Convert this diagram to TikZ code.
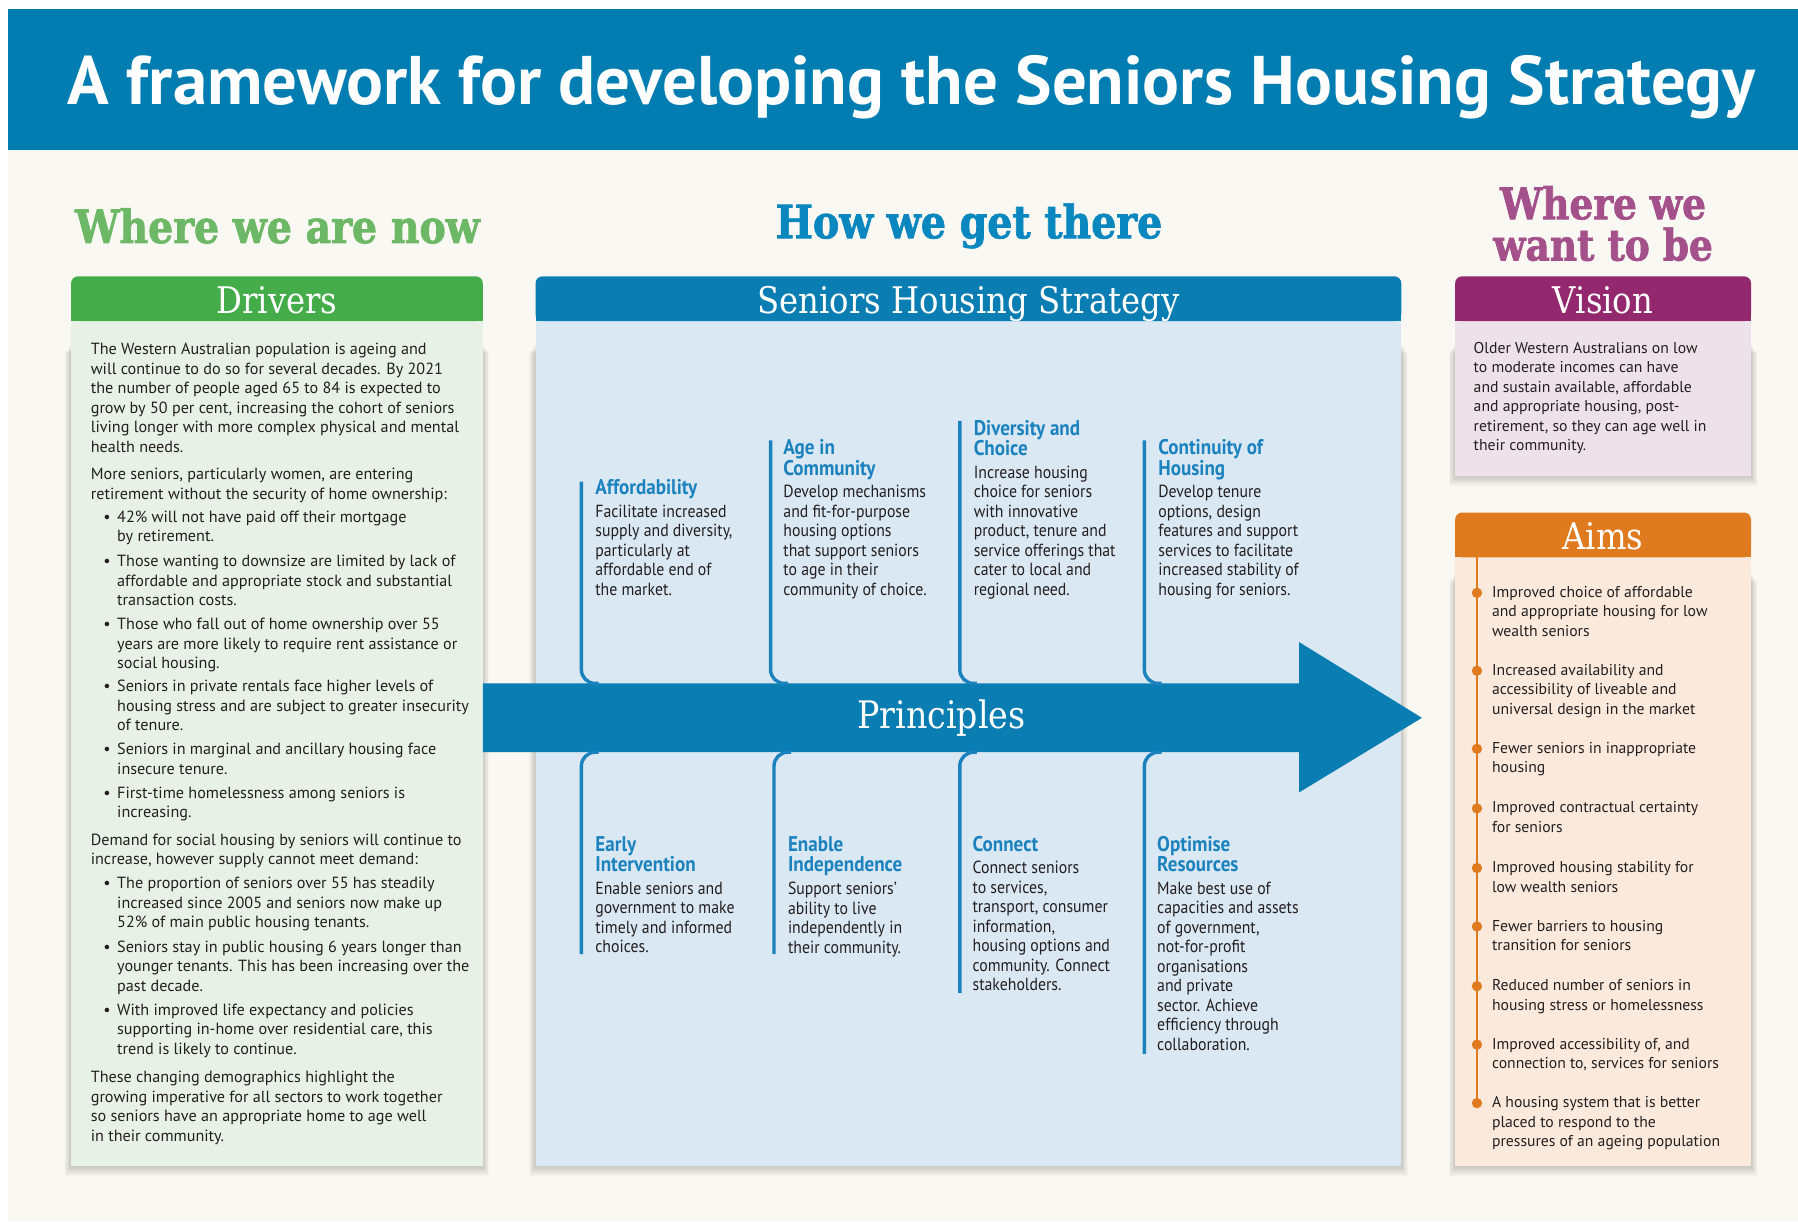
\documentclass[tikz,border=0pt]{standalone}
\usepackage{fontspec}
\setmainfont{PT Sans}
\newfontfamily\narrowfont[FakeStretch=0.9]{PT Sans}
\newfontfamily\slabfont[FakeStretch=0.88]{DejaVu Serif}
\newfontfamily\slabheavy[FakeStretch=0.86, FakeBold=1.6]{DejaVu Serif Bold}
\usetikzlibrary{shadows}
\definecolor{cream}{HTML}{FAF8F2}
\definecolor{titleblue}{HTML}{027DB1}
\definecolor{textdark}{HTML}{231F20}
\definecolor{drvgreen}{HTML}{44AD4A}
\definecolor{drvbody}{HTML}{E8F1E6}
\definecolor{nowgreen}{HTML}{6DB866}
\definecolor{strblue}{HTML}{0A7DB3}
\definecolor{strbody}{HTML}{DAE8F3}
\definecolor{howblue}{HTML}{0A87BF}
\definecolor{princblue}{HTML}{1B82BE}
\definecolor{vispurple}{HTML}{93286F}
\definecolor{visbody}{HTML}{EDE2E9}
\definecolor{wantpurple}{HTML}{A4508B}
\definecolor{aimorange}{HTML}{E07A1F}
\definecolor{aimbody}{HTML}{FBEADB}
\tikzstyle{panel}=[rectangle, anchor=north west, inner sep=0pt, outer sep=0pt]
\tikzstyle{header}=[rectangle, anchor=north west, inner sep=0pt, outer sep=0pt, rounded corners=6pt, minimum height=39, text=white, text height=26pt, text depth=1pt, font=\slabfont\fontsize{32}{32}\selectfont]
\tikzstyle{section}=[align=center, inner sep=0pt, font=\slabheavy\fontsize{40}{36}\selectfont]
\tikzstyle{bodytext}=[anchor=north west, inner sep=0pt, align=left, text=textdark, font=\fontsize{13.7}{17}\selectfont]
\tikzstyle{phead}=[anchor=north west, inner sep=0pt, align=left, text=princblue, font=\narrowfont\bfseries\fontsize{18.5}{18}\selectfont]
\tikzstyle{pbody}=[anchor=north west, inner sep=0pt, align=left, text=textdark, font=\narrowfont\fontsize{15.3}{17}\selectfont]
\tikzstyle{pline}=[draw=princblue, line width=3pt, rounded corners=12pt]
\tikzstyle{aimdot}=[circle, fill=aimorange, inner sep=0pt, minimum size=9pt]
\newcommand{\drvbul}{\hspace*{11pt}\makebox[12pt][l]{\textbullet}}
\newcommand{\drvind}{\hspace*{23pt}}
% soft shadow under a panel: left, top, right, bottom
\newcommand{\softshadow}[4]{%
  \foreach \d in {1,...,8}{\fill[black, opacity=0.022] ({#1-0.7*\d},{#2+\d}) rectangle ({#3+0.7*\d},{#4+1.1*\d});}}

\begin{document}
\begin{tikzpicture}[x=1pt, y=-1pt]
  \useasboundingbox (0,0) rectangle (1568,1065);
  \fill[cream] (7,8) rectangle (1568,1065);
  % title band
  \node (titlebar) [rectangle, fill=titleblue, anchor=north west, inner sep=0pt, minimum width=1561, minimum height=123] at (7,8) {};
  \node (title) [text=white, font=\bfseries\fontsize{60}{60}\selectfont] at (795,76) {A framework for developing the Seniors Housing Strategy};

  % section titles
  \node (now) [section, text=nowgreen] at (242,197) {Where we are now};
  \node (how) [section, text=howblue] at (845,197) {How we get there};
  \node (want) [section, text=wantpurple, font=\slabheavy\fontsize{38}{36}\selectfont] at (1398,195) {Where we\\want to be};

  % panels
  \softshadow{62}{300}{421}{1017}
  \softshadow{467}{300}{1222}{1017}
  \softshadow{1269}{300}{1527}{415}
  \softshadow{1269}{500}{1527}{1017}
  \begin{scope}
    \node (drvpanel) [panel, fill=drvbody, minimum width=359, minimum height=757] at (62,260) {};
    \node (strpanel) [panel, fill=strbody, minimum width=755, minimum height=757] at (467,260) {};
    \node (vispanel) [panel, fill=visbody, minimum width=258, minimum height=155] at (1269,260) {};
    \node (aimpanel) [panel, fill=aimbody, minimum width=258, minimum height=551] at (1269,466) {};
    \fill[drvgreen] (62,262) rectangle (421,280);
    \fill[strblue] (467,262) rectangle (1222,280);
    \fill[vispurple] (1269,262) rectangle (1527,280);
    \fill[aimorange] (1269,468) rectangle (1527,486);
    \node (drivers) [header, fill=drvgreen, minimum width=359] at (62,241) {Drivers};
    \node (strategy) [header, fill=strblue, minimum width=755] at (467,241) {Seniors Housing Strategy};
    \node (vision) [header, fill=vispurple, minimum width=258] at (1269,241) {Vision};
    \node (aims) [header, fill=aimorange, minimum width=258] at (1269,447) {Aims};
  \end{scope}

  % drivers
  \node (drvtext) [bodytext, font=\fontsize{14.1}{17}\selectfont] at (79,299) {The Western Australian population is ageing and\\
will continue to do so for several decades. By 2021\\
the number of people aged 65 to 84 is expected to\\
grow by 50 per cent, increasing the cohort of seniors\\
living longer with more complex physical and mental\\
health needs.\\[7pt]
More seniors, particularly women, are entering\\
retirement without the security of home ownership:\\[3pt]
\drvbul 42\% will not have paid off their mortgage\\
\drvind by retirement.\\[5pt]
\drvbul Those wanting to downsize are limited by lack of\\
\drvind affordable and appropriate stock and substantial\\
\drvind transaction costs.\\[4pt]
\drvbul Those who fall out of home ownership over 55\\
\drvind years are more likely to require rent assistance or\\
\drvind social housing.\\[3pt]
\drvbul Seniors in private rentals face higher levels of\\
\drvind housing stress and are subject to greater insecurity\\
\drvind of tenure.\\[4pt]
\drvbul Seniors in marginal and ancillary housing face\\
\drvind insecure tenure.\\[4pt]
\drvbul First-time homelessness among seniors is\\
\drvind increasing.\\[7pt]
Demand for social housing by seniors will continue to\\
increase, however supply cannot meet demand:\\[4pt]
\drvbul The proportion of seniors over 55 has steadily\\
\drvind increased since 2005 and seniors now make up\\
\drvind 52\% of main public housing tenants.\\[4pt]
\drvbul Seniors stay in public housing 6 years longer than\\
\drvind younger tenants. This has been increasing over the\\
\drvind past decade.\\[4pt]
\drvbul With improved life expectancy and policies\\
\drvind supporting in-home over residential care, this\\
\drvind trend is likely to continue.\\[8pt]
These changing demographics highlight the\\
growing imperative for all sectors to work together\\
so seniors have an appropriate home to age well\\
in their community.};

  % principles arrow
  \fill[strblue] (421,596) -- (1133,596) -- (1133,560) -- (1240,626) -- (1133,691) -- (1133,656) -- (421,656) -- cycle;
  \node (principles) [text=white, font=\slabfont\fontsize{33}{33}\selectfont] at (821,626) {Principles};

  % upper principles
  \draw[pline] (507,420) |- (522,596);
  \draw[pline] (672,384) |- (687,596);
  \draw[pline] (837,367) |- (852,596);
  \draw[pline] (998,384) |- (1013,596);
  \node (afford) [phead] at (519,418) {Affordability};
  \node (affordtext) [pbody] at (519,440) {Facilitate increased\\supply and diversity,\\particularly at\\affordable end of\\the market.};
  \node (age) [phead] at (683,383) {Age in\\Community};
  \node (agetext) [pbody] at (683,423) {Develop mechanisms\\and fit-for-purpose\\housing options\\that support seniors\\to age in their\\community of choice.};
  \node (divers) [phead] at (849,366) {Diversity and\\Choice};
  \node (diverstext) [pbody] at (849,406) {Increase housing\\choice for seniors\\with innovative\\product, tenure and\\service offerings that\\cater to local and\\regional need.};
  \node (contin) [phead] at (1010,383) {Continuity of\\Housing};
  \node (contintext) [pbody] at (1010,423) {Develop tenure\\options, design\\features and support\\services to facilitate\\increased stability of\\housing for seniors.};

  % lower principles
  \draw[pline] (522,656) -| (507,832);
  \draw[pline] (690,656) -| (675,832);
  \draw[pline] (852,656) -| (837,866);
  \draw[pline] (1013,656) -| (998,919);
  \node (early) [phead] at (519,729) {Early\\Intervention};
  \node (earlytext) [pbody] at (519,769) {Enable seniors and\\government to make\\timely and informed\\choices.};
  \node (enable) [phead] at (687,729) {Enable\\Independence};
  \node (enabletext) [pbody] at (687,769) {Support seniors’\\ability to live\\independently in\\their community.};
  \node (connect) [phead] at (848,729) {Connect};
  \node (connecttext) [pbody] at (848,751) {Connect seniors\\to services,\\transport, consumer\\information,\\housing options and\\community. Connect\\stakeholders.};
  \node (optim) [phead] at (1009,729) {Optimise\\Resources};
  \node (optimtext) [pbody] at (1009,769) {Make best use of\\capacities and assets\\of government,\\not-for-profit\\organisations\\and private\\sector. Achieve\\efficiency through\\collaboration.};

  % vision
  \node (vistext) [bodytext] at (1285,298) {Older Western Australians on low\\to moderate incomes can have\\and sustain available, affordable\\and appropriate housing, post-\\retirement, so they can age well in\\their community.};

  % aims
  \node (dot1) [aimdot] at (1288,517) {};
  \node (dot2) [aimdot] at (1288,585) {};
  \node (dot3) [aimdot] at (1288,653) {};
  \node (dot4) [aimdot] at (1288,705) {};
  \node (dot5) [aimdot] at (1288,757) {};
  \node (dot6) [aimdot] at (1288,808) {};
  \node (dot7) [aimdot] at (1288,860) {};
  \node (dot8) [aimdot] at (1288,911) {};
  \node (dot9) [aimdot] at (1288,962) {};
  \draw[aimorange, line width=2.5pt] (aims.south west -| dot1) -- (dot9.center);
  \node (aim1) [bodytext] at (1301,511) {Improved choice of affordable\\and appropriate housing for low\\wealth seniors};
  \node (aim2) [bodytext] at (1301,579) {Increased availability and\\accessibility of liveable and\\universal design in the market};
  \node (aim3) [bodytext] at (1301,647) {Fewer seniors in inappropriate\\housing};
  \node (aim4) [bodytext] at (1301,699) {Improved contractual certainty\\for seniors};
  \node (aim5) [bodytext] at (1301,751) {Improved housing stability for\\low wealth seniors};
  \node (aim6) [bodytext] at (1301,802) {Fewer barriers to housing\\transition for seniors};
  \node (aim7) [bodytext] at (1301,854) {Reduced number of seniors in\\housing stress or homelessness};
  \node (aim8) [bodytext] at (1301,905) {Improved accessibility of, and\\connection to, services for seniors};
  \node (aim9) [bodytext] at (1301,956) {A housing system that is better\\placed to respond to the\\pressures of an ageing population};
\end{tikzpicture}
\end{document}
